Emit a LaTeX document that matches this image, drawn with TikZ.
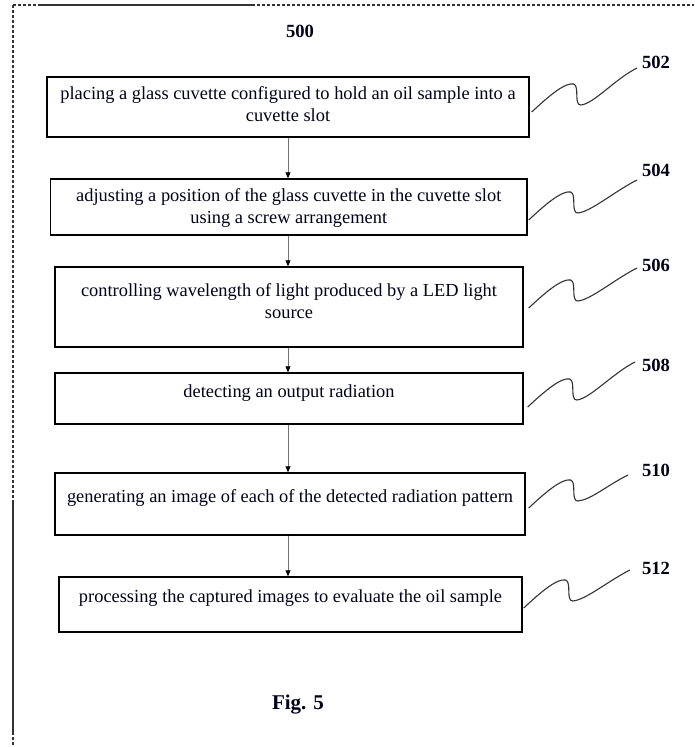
\documentclass[tikz,border=0pt]{standalone}
\usepackage{fontspec}
\setmainfont{Liberation Serif}
\usetikzlibrary{arrows.meta,calc}
\begin{document}
\begin{tikzpicture}[x=1pt,y=-1pt,
  stepbox/.style={draw=black, line width=1.4pt, inner sep=0pt},
  steptext/.style={anchor=north, inner sep=0pt, align=center, text=black!90!blue,
    font=\fontsize{18.4}{21.5}\selectfont},
  reflabel/.style={inner sep=0pt, font=\fontsize{18.6}{20}\selectfont\bfseries, text=black!90!blue},
  flow/.style={draw=black!55, line width=0.8pt, -{Triangle[length=6pt,width=5pt,fill=black,color=black]}},
  squiggle/.style={draw=black!80, line width=1.1pt},
  frame/.style={draw=black!80, line width=1.3pt},
  framedash/.style={frame, dash pattern=on 3pt off 2pt}]
\useasboundingbox (0,0) rectangle (694,747);

% frame
\draw[framedash] (13,5) -- (40,5);
\draw[frame] (40,5) -- (252,5);
\draw[framedash] (252,5) -- (694,5);
\draw[framedash] (13,5) -- (13,500);
\draw[frame] (13,500) -- (13,732);
\draw[framedash] (13,732) -- (13,747);

\node[reflabel] (title) at (300,31) {500};

% boxes
\node[stepbox, minimum width=482pt, minimum height=60pt] (b1) at (288,107) {};
\node[stepbox, minimum width=476.5pt, minimum height=56pt] (b2) at (288.75,207) {};
\node[stepbox, minimum width=468pt, minimum height=80pt] (b3) at (289,307) {};
\node[stepbox, minimum width=468pt, minimum height=51pt] (b4) at (289,398.5) {};
\node[stepbox, minimum width=470pt, minimum height=62pt] (b5) at (290,504) {};
\node[stepbox, minimum width=463pt, minimum height=55pt] (b6) at (290.5,604.5) {};

\node[steptext] (t1) at (288,86.6) {placing a glass cuvette configured to hold an oil sample into a\\cuvette slot};
\node[steptext] (t2) at (288.75,188.6) {adjusting a position of the glass cuvette in the cuvette slot\\using a screw arrangement};
\node[steptext] (t3) at (289,283.6) {controlling wavelength of light produced by a LED light\\source};
\node[steptext] (t4) at (289,384.6) {detecting an output radiation};
\node[steptext] (t5) at (290,489.6) {generating an image of each of the detected radiation pattern};
\node[steptext] (t6) at (290.5,589.6) {processing the captured images to evaluate the oil sample};

% arrows
\draw[flow] (b1.south -| 288,0) -- (b2.north -| 288,0);
\draw[flow] (b2.south -| 288,0) -- (b3.north -| 288,0);
\draw[flow] (b3.south -| 288,0) -- (b4.north -| 288,0);
\draw[flow] (b4.south -| 288,0) -- (b5.north -| 288,0);
\draw[flow] (b5.south -| 288,0) -- (b6.north -| 288,0);

% reference labels
\node[reflabel] (l1) at (656,62) {502};
\node[reflabel] (l2) at (656,170) {504};
\node[reflabel] (l3) at (656,265) {506};
\node[reflabel] (l4) at (656,365) {508};
\node[reflabel] (l5) at (656,470) {510};
\node[reflabel] (l6) at (656,568) {512};

\coordinate (s1) at ([xshift=2pt,yshift=-5pt]b1.east);
\coordinate (s2) at ([xshift=1pt,yshift=-13pt]b2.east);
\coordinate (s3) at ([xshift=5pt,yshift=-1pt]b3.east);
\coordinate (s4) at ([xshift=4pt,yshift=-8.5pt]b4.east);
\coordinate (s5) at ([xshift=3pt,yshift=-4pt]b5.east);
\coordinate (s6) at ([xshift=1pt,yshift=-3.5pt]b6.east);
\coordinate (e1) at ($(l1)+(-19,6)$);
\coordinate (e2) at ($(l2)+(-19,10)$);
\coordinate (e3) at ($(l3)+(-19,3)$);
\coordinate (e4) at ($(l4)+(-21,-3)$);
\coordinate (e5) at ($(l5)+(-28,5)$);
\coordinate (e6) at ($(l6)+(-26,2)$);

\foreach \i in {1,...,6}{
  \draw[squiggle] (s\i) .. controls ($(s\i)+(15,-14)$) and ($(s\i)+(33,-30)$) .. ($(s\i)+(42,-28)$)
    .. controls ($(s\i)+(48,-26)$) and ($(s\i)+(42,-7)$) .. ($(s\i)+(49,-7)$)
    .. controls ($(s\i)+(62,-8)$) and ($(e\i)+(-22,11)$) .. (e\i);
}

\node[reflabel, font=\fontsize{21}{23}\selectfont\bfseries] (fig) at (298,705) {Fig. 5};
\end{tikzpicture}
\end{document}
